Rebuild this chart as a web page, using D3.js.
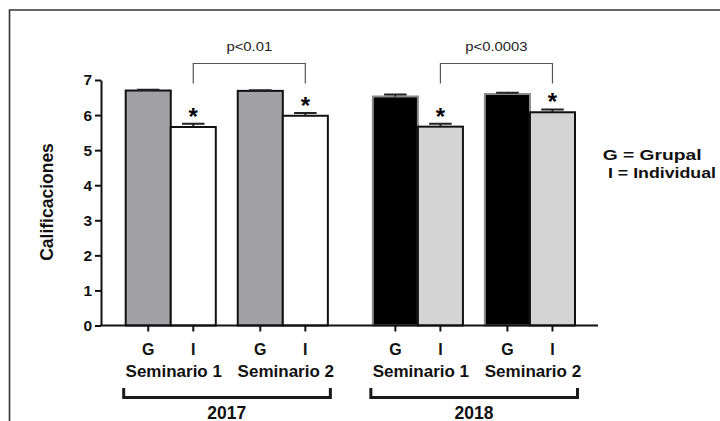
<!DOCTYPE html>
<html lang="es">
<head>
<meta charset="UTF-8">
<title>Calificaciones</title>
<script src="https://d3js.org/d3.v7.min.js"></script>
<style>
  body { margin: 0; background: #fff; font-family: "Liberation Sans", Arial, sans-serif; }
  svg text { font-family: "Liberation Sans", Arial, sans-serif; }
</style>
</head>
<body>
<div id="chart"></div>
<script>
const W = 720, H = 421;

// data
const years = ["2017", "2018"];
const seminars = ["Seminario 1", "Seminario 2"];
const groups = ["G", "I"];
const means2017 = [6.70, 5.66, 6.69, 5.98];   // S1 G, S1 I, S2 G, S2 I
const sem2017   = [0.02, 0.09, 0.02, 0.08];
const means2018 = [6.53, 5.67, 6.60, 6.08];
const sem2018   = [0.06, 0.08, 0.04, 0.08];
const pLabels = ["p<0.01", "p<0.0003"];
const yTicks = [0, 1, 2, 3, 4, 5, 6, 7];
const legendLines = ["G = Grupal", "I = Individual"];

const means = [means2017, means2018];
const sems = [sem2017, sem2018];

const bars = years.flatMap((yr, yi) =>
  seminars.flatMap((s, si) =>
    groups.map((g, gi) => ({
      year: yr, yi: yi, sem: s, grp: g,
      value: means[yi][si * 2 + gi],
      err: sems[yi][si * 2 + gi]
    }))));

const fills = {
  "2017": { G: "#a2a2a6", I: "#ffffff" },
  "2018": { G: "#000000", I: "#d4d4d4" }
};
const strokes = {
  "2017": { G: "#111", I: "#111" },
  "2018": { G: "#8a8a8a", I: "#111" }
};

const svg = d3.select("#chart").append("svg")
  .attr("width", W).attr("height", H)
  .attr("viewBox", [0, 0, W, H]);

// frame of the figure panel
svg.append("path")
  .attr("d", "M9.5," + H + "V10H" + W)
  .attr("fill", "none")
  .attr("stroke", "#333")
  .attr("stroke-width", 1.6);

const axisX0 = 101, axisX1 = 598;

const y = d3.scaleLinear().domain([0, 7]).range([325.5, 80]);

const xYear = d3.scaleBand().domain(years).range([125.7, 575]).paddingInner(0.182);
const xSem = d3.scaleBand().domain(seminars).range([0, xYear.bandwidth()]).paddingInner(0.196);
const xGrp = d3.scaleBand().domain(groups).range([0, xSem.bandwidth()]);

const barX = d => xYear(d.year) + xSem(d.sem) + xGrp(d.grp);
const barC = d => barX(d) + xGrp.bandwidth() / 2;

// bars
svg.append("g").selectAll("rect")
  .data(bars)
  .join("rect")
  .attr("x", barX)
  .attr("y", d => y(d.value))
  .attr("width", xGrp.bandwidth())
  .attr("height", d => y(0) - y(d.value))
  .attr("fill", d => fills[d.year][d.grp])
  .attr("stroke", d => strokes[d.year][d.grp])
  .attr("stroke-width", 2);

// error bars (upper only)
const capW = xGrp.bandwidth() * 0.5;
const eb = svg.append("g")
  .attr("stroke", "#222")
  .attr("stroke-width", 2)
  .attr("fill", "none");
eb.selectAll("path")
  .data(bars)
  .join("path")
  .attr("d", d => {
    const c = barC(d), t = y(d.value + d.err);
    return "M" + c + "," + y(d.value) + "V" + t + "M" + (c - capW / 2) + "," + t + "H" + (c + capW / 2);
  });

// asterisks on the individual bars
svg.append("g").selectAll("text")
  .data(bars.filter(d => d.grp === "I"))
  .join("text")
  .attr("x", barC)
  .attr("y", d => y(d.value + d.err) + 1)
  .attr("text-anchor", "middle")
  .attr("font-size", 24)
  .attr("font-weight", "bold")
  .text("*");

// y axis
const yAxis = svg.append("g")
  .attr("transform", "translate(" + axisX0 + ",0)")
  .call(d3.axisLeft(y).tickValues(yTicks).tickSize(6).tickSizeOuter(0).tickPadding(3).tickFormat(d3.format("d")));
yAxis.select(".domain").attr("stroke", "#111").attr("stroke-width", 2);
yAxis.selectAll(".tick line").attr("stroke", "#111").attr("stroke-width", 2);
yAxis.selectAll(".tick text")
  .attr("font-size", 15.5)
  .attr("font-weight", "bold")
  .attr("fill", "#111");

// x axis line and ticks
svg.append("path")
  .attr("d", "M" + (axisX0 - 1) + "," + y(0) + "H" + axisX1)
  .attr("stroke", "#111")
  .attr("stroke-width", 2);
svg.append("g").selectAll("line")
  .data(bars)
  .join("line")
  .attr("x1", barC).attr("x2", barC)
  .attr("y1", y(0)).attr("y2", y(0) + 6)
  .attr("stroke", "#111")
  .attr("stroke-width", 2);

// G / I labels
svg.append("g").selectAll("text")
  .data(bars)
  .join("text")
  .attr("x", barC)
  .attr("y", 354.5)
  .attr("text-anchor", "middle")
  .attr("font-size", 16)
  .attr("font-weight", "bold")
  .attr("fill", "#111")
  .text(d => d.grp);

// seminar labels
const semCells = years.flatMap(yr => seminars.map(s => ({ year: yr, sem: s })));
svg.append("g").selectAll("text")
  .data(semCells)
  .join("text")
  .attr("x", d => xYear(d.year) + xSem(d.sem) + xSem.bandwidth() / 2 + 3)
  .attr("y", 377)
  .attr("text-anchor", "middle")
  .attr("font-size", 17)
  .attr("font-weight", "bold")
  .attr("fill", "#111")
  .text(d => d.sem);

// year brackets
const yb = svg.append("g");
yb.selectAll("path")
  .data(years)
  .join("path")
  .attr("d", d => {
    const x0 = xYear(d) - 2, x1 = xYear(d) + xYear.bandwidth() + 2.5;
    return "M" + x0 + ",388V397.5H" + x1 + "V388";
  })
  .attr("fill", "none")
  .attr("stroke", "#1a1a1a")
  .attr("stroke-width", 3);
yb.selectAll("text")
  .data(years)
  .join("text")
  .attr("x", d => xYear(d) + xYear.bandwidth() / 2)
  .attr("y", 418.5)
  .attr("text-anchor", "middle")
  .attr("font-size", 17.5)
  .attr("font-weight", "bold")
  .attr("fill", "#111")
  .text(d => d);

// significance brackets between I bars of each seminar
const sig = years.map((yr, i) => ({
  x0: barC(bars.find(b => b.year === yr && b.sem === seminars[0] && b.grp === "I")),
  x1: barC(bars.find(b => b.year === yr && b.sem === seminars[1] && b.grp === "I")),
  label: pLabels[i]
}));
const sg = svg.append("g");
sg.selectAll("path")
  .data(sig)
  .join("path")
  .attr("d", d => "M" + d.x0 + ",83.5V63.5H" + d.x1 + "V83.5")
  .attr("fill", "none")
  .attr("stroke", "#555")
  .attr("stroke-width", 1.2);
sg.selectAll("text")
  .data(sig)
  .join("text")
  .attr("transform", d => "translate(" + ((d.x0 + d.x1) / 2) + ",50.8) scale(1.1,1)")
  .attr("text-anchor", "middle")
  .attr("font-size", 13.5)
  .attr("fill", "#222")
  .text(d => d.label);

// y title
svg.append("text")
  .attr("transform", "translate(53,202) rotate(-90)")
  .attr("text-anchor", "middle")
  .attr("font-size", 17.5)
  .attr("font-weight", "bold")
  .attr("fill", "#111")
  .text("Calificaciones");

// legend
const legendX = [602.7, 608], legendLen = [99, 108];
svg.append("g").selectAll("text")
  .data(legendLines)
  .join("text")
  .attr("x", (d, i) => legendX[i])
  .attr("y", (d, i) => 159.5 + i * 18)
  .attr("textLength", (d, i) => legendLen[i])
  .attr("lengthAdjust", "spacingAndGlyphs")
  .attr("font-size", 15)
  .attr("font-weight", "bold")
  .attr("fill", "#111")
  .text(d => d);
</script>
</body>
</html>
